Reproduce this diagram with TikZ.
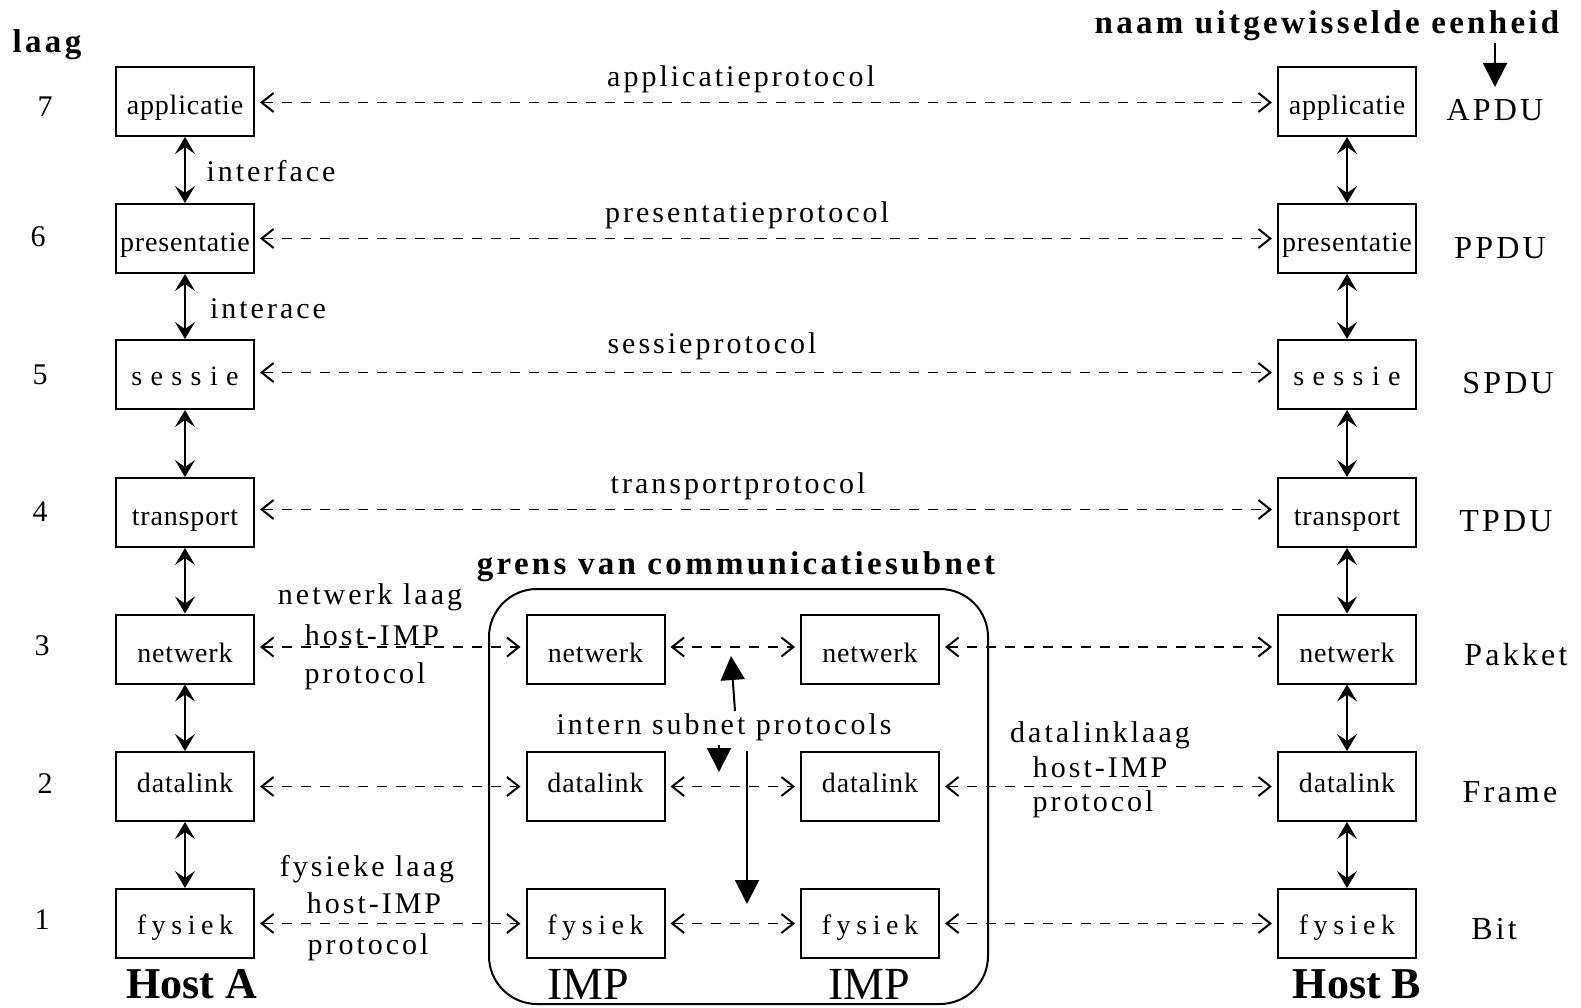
\documentclass[tikz,border=0pt]{standalone}
\usepackage{fontspec}
\setmainfont{Liberation Serif}
\newfontfamily\lblfont[LetterSpace=10]{Liberation Serif}
\newfontfamily\boxfont[LetterSpace=3]{Liberation Serif}
\newfontfamily\widefont[LetterSpace=30]{Liberation Serif}
\newfontfamily\fysfont[LetterSpace=20]{Liberation Serif}
\usetikzlibrary{arrows.meta}
\tikzset{
  layerbox/.style={draw, line width=2pt, minimum width=138pt, minimum height=69pt, inner sep=0pt,
    text height=31pt, text depth=5pt, font=\boxfont\fontsize{28}{30}\selectfont},
  dlbox/.style={layerbox, text height=18pt, text depth=6pt},
  widebox/.style={layerbox, text height=27pt, text depth=6pt, font=\widefont\fontsize{28}{30}\selectfont},
  fysbox/.style={layerbox, text height=27pt, text depth=6pt, font=\fysfont\fontsize{28}{30}\selectfont},
  lbl/.style={inner sep=0pt, font=\lblfont\fontsize{30}{32}\selectfont},
  pdu/.style={inner sep=0pt, font=\lblfont\fontsize{32}{34}\selectfont},
  title/.style={inner sep=0pt, font=\lblfont\bfseries\fontsize{33}{35}\selectfont},
  hostlbl/.style={inner sep=0pt, font=\bfseries\fontsize{44}{46}\selectfont},
  implbl/.style={inner sep=0pt, font=\fontsize{46}{48}\selectfont},
  proto/.style={line width=1.6pt, dash pattern=on 10pt off 9pt,
    {Straight Barb[length=12pt,width=19pt,line width=2pt]}-{Straight Barb[length=12pt,width=19pt,line width=2pt]},
    shorten <=5pt, shorten >=5pt},
  varrow/.style={line width=2pt, {Stealth[length=17pt,width=20pt,inset=7pt]}-{Stealth[length=17pt,width=20pt,inset=7pt]}},
  solidarrow/.style={line width=2pt, -{Triangle[length=24pt,width=24pt]}}
}
\begin{document}
\begin{tikzpicture}[x=1pt,y=-1pt]
\useasboundingbox (0,0) rectangle (1581,1008);

% Host A boxes
\node[layerbox] (A7) at (185,101.5) {applicatie};
\node[layerbox] (A6) at (185,238.5) {presentatie};
\node[widebox]  (A5) at (185,374.5) {sessie};
\node[layerbox] (A4) at (185,512.5) {transport};
\node[layerbox] (A3) at (185,649) {netwerk};
\node[dlbox]    (A2) at (185,786.5) {datalink};
\node[fysbox]   (A1) at (185,923.5) {fysiek};

% Host B boxes
\node[layerbox] (B7) at (1347,101.5) {applicatie};
\node[layerbox] (B6) at (1347,238.5) {presentatie};
\node[widebox]  (B5) at (1347,374.5) {sessie};
\node[layerbox] (B4) at (1347,512.5) {transport};
\node[layerbox] (B3) at (1347,649) {netwerk};
\node[dlbox]    (B2) at (1347,786.5) {datalink};
\node[fysbox]   (B1) at (1347,923.5) {fysiek};

% IMP boxes
\node[layerbox] (L3) at (595.5,649) {netwerk};
\node[dlbox]    (L2) at (595.5,786.5) {datalink};
\node[fysbox]   (L1) at (595.5,923.5) {fysiek};
\node[layerbox] (R3) at (870,649) {netwerk};
\node[dlbox]    (R2) at (870,786.5) {datalink};
\node[fysbox]   (R1) at (870,923.5) {fysiek};

% subnet boundary
\draw[line width=2pt, rounded corners=48pt] (489,589) rectangle (988,1004);
\node[title] (grens) at (736,567) {grens van communicatiesubnet};

% vertical interfaces
\foreach \a/\b in {7/6,6/5,5/4,4/3,3/2,2/1}{
  \draw[varrow] (A\a) -- (A\b);
  \draw[varrow] (B\a) -- (B\b);
}

% peer protocols
\foreach \r/\s in {7/-1,6/0,5/2,4/3}{
  \draw[proto] ([yshift=\s pt]A\r.east) -- ([yshift=\s pt]B\r.west);
}
\draw[proto] ([yshift=2pt]A3.east) -- ([yshift=2pt]L3.west);
\draw[proto] ([yshift=2pt]L3.east) -- ([yshift=2pt]R3.west);
\draw[proto] ([yshift=2pt]R3.east) -- ([yshift=2pt]B3.west);
\draw[proto] (A2.east) -- (L2.west);
\draw[proto] (L2.east) -- (R2.west);
\draw[proto] (R2.east) -- (B2.west);
\draw[proto] (A1.east) -- (L1.west);
\draw[proto] (L1.east) -- (R1.west);
\draw[proto] (R1.east) -- (B1.west);

% protocol labels
\node[lbl] (p7) at (741,79) {applicatieprotocol};
\node[lbl] (p6) at (747,215) {presentatieprotocol};
\node[lbl] (p5) at (712,346) {sessieprotocol};
\node[lbl] (p4) at (738,486) {transportprotocol};
\node[lbl] (if1) at (271,171) {interface};
\node[lbl] (if2) at (268,309) {interace};

\node[lbl] (n1) at (370,597) {netwerk laag};
\node[lbl] (n2) at (372,635) {host-IMP};
\node[lbl] (n3) at (365,676) {protocol};
\node[lbl] (f1) at (367,869) {fysieke laag};
\node[lbl] (f2) at (374,903) {host-IMP};
\node[lbl] (f3) at (368,947) {protocol};
\node[lbl] (d1) at (1100,735) {datalinklaag};
\node[lbl] (d2) at (1100,767) {host-IMP};
\node[lbl] (d3) at (1093,804) {protocol};

% intern subnet protocols
\node[lbl] (intern) at (724,727) {intern subnet protocols};
\coordinate (up1) at (735,711);
\coordinate (up2) at (731,656);
\draw[solidarrow] (up1) -- (up2);
\coordinate (dn1) at (719,745);
\coordinate (dn2) at (719,772);
\draw[solidarrow] (dn1) -- (dn2);
\coordinate (lg1) at (747,751);
\coordinate (lg2) at (747,904);
\draw[solidarrow] (lg1) -- (lg2);

% layer numbers
\node[title] (laag) at (47,45) {laag};
\foreach \n/\x/\y in {7/45/107,6/38/237,5/40/375,4/40/512,3/42/646,2/45/784,1/42/920}{
  \node[lbl] (num\n) at (\x,\y) {\n};
}

% unit names
\node[title] (naam) at (1327,26) {naam uitgewisselde eenheid};
\coordinate (na1) at (1495,43);
\coordinate (na2) at (1495,87);
\draw[solidarrow] (na1) -- (na2);
\node[pdu] (u7) at (1495,110) {APDU};
\node[pdu] (u6) at (1500,248) {PPDU};
\node[pdu] (u5) at (1508,383) {SPDU};
\node[pdu] (u4) at (1506,521) {TPDU};
\node[pdu] (u3) at (1516,655) {Pakket};
\node[pdu] (u2) at (1510,792) {Frame};
\node[pdu] (u1) at (1494,929) {Bit};

% bottom labels
\node[hostlbl] (hA) at (192,984) {Host A};
\node[implbl] (i1) at (588,984) {IMP};
\node[implbl] (i2) at (869,984) {IMP};
\node[hostlbl] (hB) at (1357,984) {Host B};
\end{tikzpicture}
\end{document}
